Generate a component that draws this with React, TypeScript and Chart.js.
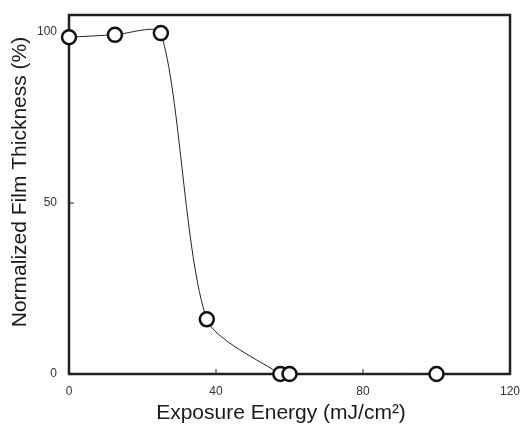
import React, { useEffect, useRef } from "react";
import { Chart, registerables } from "chart.js";

Chart.register(...registerables);

const exposure = [0, 12.5, 25, 37.5, 57.5, 60, 100];
const thickness = [98.5, 99.2, 99.7, 16, 0, 0, 0];
const xTicks = [0, 40, 80, 120];
const yTicks = [0, 50, 100];
const xTitle = "Exposure Energy (mJ/cm\u00B2)";
const yTitle = "Normalized Film Thickness (%)";

const FONT = "'Liberation Sans', Arial, Helvetica, sans-serif";
const AXIS_COLOR = "#231f20";

const framePlugin = {
  id: "frame",
  beforeDatasetsDraw(chart: any) {
    const { ctx, chartArea: a, scales } = chart;
    ctx.save();
    ctx.strokeStyle = AXIS_COLOR;
    ctx.lineWidth = 1;
    ctx.beginPath();
    xTicks.forEach((v) => {
      const px = scales.x.getPixelForValue(v);
      ctx.moveTo(px, a.bottom);
      ctx.lineTo(px, a.bottom - 5);
    });
    yTicks.forEach((v) => {
      const py = scales.y.getPixelForValue(v);
      ctx.moveTo(a.left, py);
      ctx.lineTo(a.left + 5, py);
    });
    ctx.stroke();
    ctx.lineWidth = 2.5;
    ctx.strokeRect(a.left, a.top, a.right - a.left, a.bottom - a.top);
    ctx.restore();
  },
  afterDraw(chart: any) {
    const { ctx } = chart;
    ctx.save();
    ctx.fillStyle = "#1a1a1a";
    ctx.font = `21px ${FONT}`;
    ctx.textAlign = "center";
    ctx.textBaseline = "alphabetic";
    ctx.fillText(xTitle, 281, 419);
    ctx.translate(26, 182);
    ctx.rotate(-Math.PI / 2);
    ctx.fillText(yTitle, 0, 0);
    ctx.restore();
  },
};

export default function App() {
  const ref = useRef<HTMLCanvasElement | null>(null);
  useEffect(() => {
    if (!ref.current) return;
    const chart = new Chart(ref.current, {
      type: "scatter",
      data: {
        datasets: [
          {
            data: exposure.map((x, i) => ({ x, y: thickness[i] })),
            showLine: true,
            tension: 0.24,
            borderColor: "#222",
            borderWidth: 1,
            pointRadius: 7,
            pointBorderWidth: 2.5,
            pointBackgroundColor: "#ffffff",
            pointBorderColor: "#111",
            clip: false as any,
          },
        ],
      },
      options: {
        animation: false,
        responsive: false,
        maintainAspectRatio: false,
        layout: { padding: { left: 0, right: 18, top: 15, bottom: 0 } },
        plugins: { legend: { display: false }, tooltip: { enabled: false } },
        scales: {
          x: {
            type: "linear",
            min: 0,
            max: 120,
            afterBuildTicks: (ax: any) => {
              ax.ticks = xTicks.map((v) => ({ value: v }));
            },
            afterFit: (ax: any) => {
              ax.height = 54;
              ax.paddingLeft = 0;
              ax.paddingRight = 0;
            },
            grid: { display: false, drawTicks: false },
            border: { display: false },
            ticks: {
              padding: 10,
              color: "#333",
              font: { family: FONT, size: 12 },
            },
          },
          y: {
            type: "linear",
            min: 0,
            max: 105,
            afterBuildTicks: (ax: any) => {
              ax.ticks = yTicks.map((v) => ({ value: v }));
            },
            afterFit: (ax: any) => {
              ax.width = 69;
              ax.paddingTop = 0;
              ax.paddingBottom = 0;
            },
            grid: { display: false, drawTicks: false },
            border: { display: false },
            ticks: {
              padding: 12,
              color: "#333",
              font: { family: FONT, size: 12 },
            },
          },
        },
      },
      plugins: [framePlugin],
    });
    return () => chart.destroy();
  }, []);
  return (
    <div style={{ position: "absolute", left: 0, top: 0, width: 528, height: 428 }}>
      <canvas ref={ref} width={528} height={428} style={{ display: "block" }} />
    </div>
  );
}
